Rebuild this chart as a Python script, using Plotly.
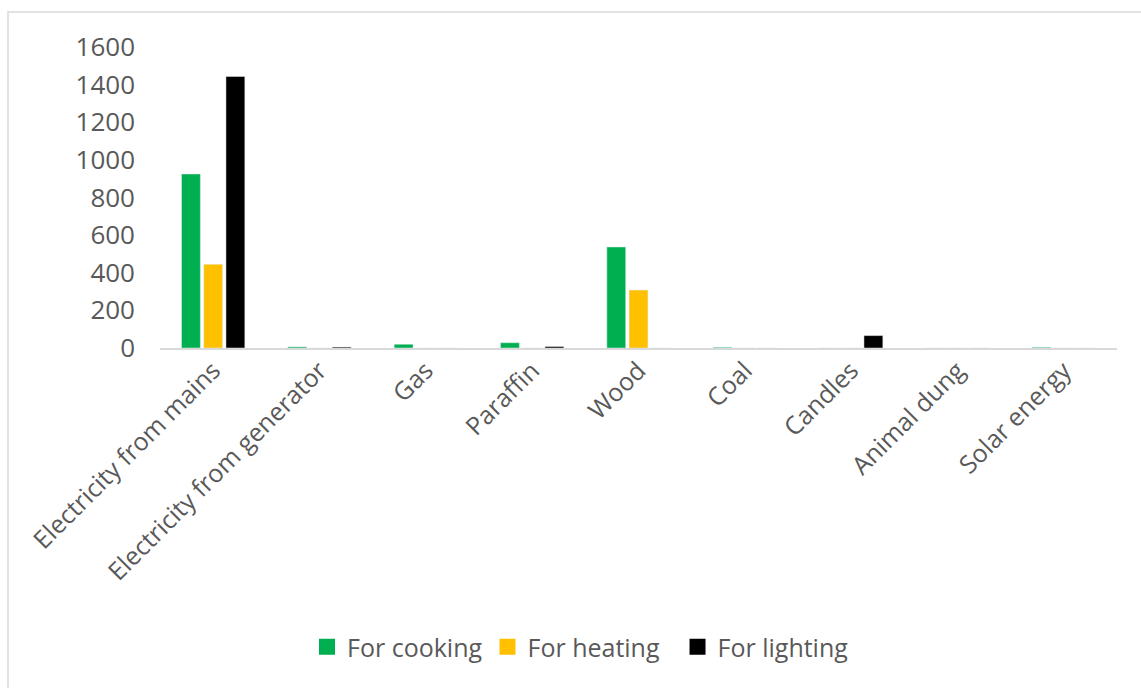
import plotly.graph_objects as go

categories = ["Electricity from mains", "Electricity from generator", "Gas", "Paraffin",
              "Wood", "Coal", "Candles", "Animal dung", "Solar energy"]
cooking = [925, 6, 20, 28, 537, 4, 0, 0, 4]
heating = [445, 0, 0, 0, 308, 0, 0, 0, 0]
lighting = [1443, 5, 0, 8, 0, 0, 66, 0, 0]
y_ticks = [0, 200, 400, 600, 800, 1000, 1200, 1400, 1600]
series_names = ["For cooking", "For heating", "For lighting"]
series_colors = ["#00B050", "#FFC000", "#000000"]
legend_pad = ["", "  ", ""]

FONT = "Open Sans"
TXT = "#595959"

fig = go.Figure()
for name, vals, col in zip(series_names, [cooking, heating, lighting], series_colors):
    fig.add_trace(go.Bar(name=name, x=categories, y=vals, marker_color=col, showlegend=False))
# legend-only entries with larger square symbols
for name, col, pad in zip(series_names, series_colors, legend_pad):
    fig.add_trace(go.Scatter(name=name + pad, x=[None], y=[None], mode="markers",
                             marker=dict(symbol="square", size=16, color=col), showlegend=True))

W, H = 1141, 688
L, R, T, B = 160, 24, 47, 339.5
pw, ph = W - L - R, H - T - B

def px_x(x):
    return (x - L) / pw

def px_y(y):
    return (H - B - y) / ph

fig.update_layout(
    width=W, height=H,
    margin=dict(l=L, r=R, t=T, b=B, autoexpand=False),
    paper_bgcolor="white", plot_bgcolor="white",
    barmode="group", bargap=0.373, bargroupgap=0.15,
    font=dict(family=FONT, color=TXT, size=25),
    showlegend=True,
    legend=dict(orientation="h", xref="container", x=307 / W, xanchor="left",
                y=px_y(648), yanchor="middle",
                font=dict(size=25, color=TXT), traceorder="normal",
                itemwidth=30, tracegroupgap=0),
    xaxis=dict(showgrid=False, zeroline=False, showline=True, linecolor="#D9D9D9", linewidth=2,
               tickangle=-45, ticks="", tickfont=dict(size=25, color=TXT), ticklabelstandoff=-4),
    yaxis=dict(range=[0, 1600], tickvals=y_ticks, showgrid=False, zeroline=False, showline=False,
               ticks="", ticklabelstandoff=24, tickfont=dict(size=26, color=TXT)),
    shapes=[dict(type="rect", xref="paper", yref="paper",
                 x0=px_x(8), x1=px_x(1150), y0=px_y(700), y1=px_y(12),
                 line=dict(color="#D9D9D9", width=1.5), fillcolor="rgba(0,0,0,0)", layer="below")],
)

fig.write_html("out.html")
